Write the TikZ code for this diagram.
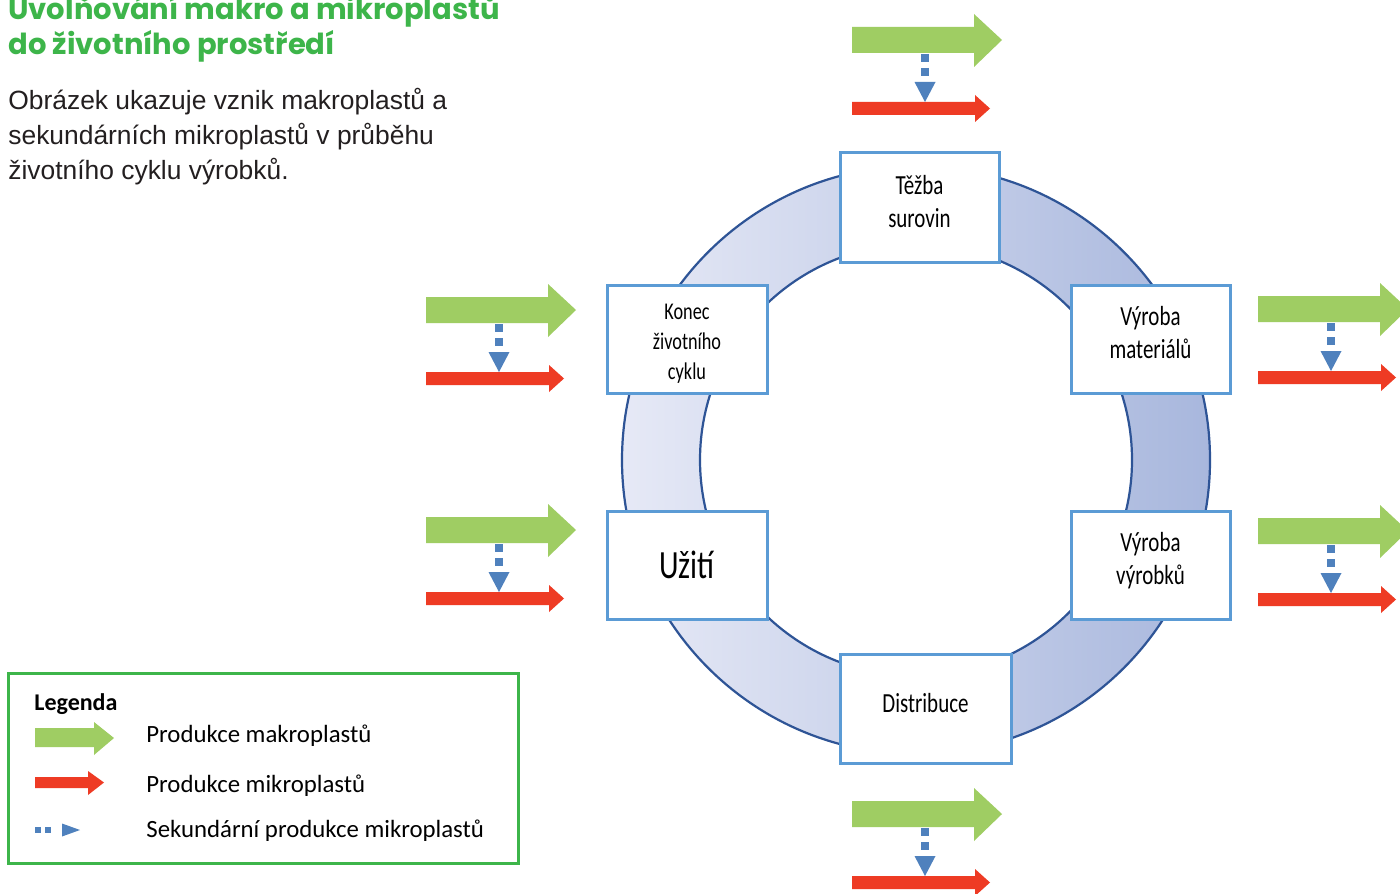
\documentclass[tikz,border=0pt]{standalone}
\usepackage{fontspec}
\setmainfont{Carlito}
\newfontfamily\boxfont[FakeStretch=0.76]{Carlito}
\newfontfamily\titlefont{Poppins}
\newfontfamily\bodyfont{Liberation Sans}
\definecolor{macroG}{HTML}{9FCD63}
\definecolor{microR}{HTML}{EE3B24}
\definecolor{secB}{HTML}{4F81BD}
\definecolor{ringL}{HTML}{E6E9F6}
\definecolor{ringR}{HTML}{A8B7DD}
\definecolor{ringE}{HTML}{2E5496}
\definecolor{boxE}{HTML}{5B9BD5}
\definecolor{titleG}{HTML}{3DB54A}
\definecolor{bodyK}{HTML}{231F20}
\definecolor{legG}{HTML}{3DB54A}
\tikzset{
  stage/.style={draw=boxE, line width=1.5pt, fill=white, inner sep=0pt},
  stagetext/.style={inner sep=0pt, align=center, font=\boxfont\fontsize{13.8pt}{16.5pt}\selectfont},
  ringline/.style={draw=ringE, line width=1.1pt},
  secline/.style={draw=secB, line width=4pt, dash pattern=on 4pt off 3pt},
  flow/.pic={
    \fill[macroG] (0,0) -- (122,0) -- (122,-13) -- (150,13) -- (122,40) -- (122,26) -- (0,26) -- cycle;
    \fill[microR] (0,75) -- (123,75) -- (123,68) -- (138,81.5) -- (123,95) -- (123,88) -- (0,88) -- cycle;
    \draw[secline] (73,27) -- (73,50);
    \fill[secB] (62.5,55) -- (83.5,55) -- (73,75) -- cycle;
  },
  txt/.style={anchor=base west, inner sep=0pt},
  titletxt/.style={txt, font=\titlefont\bfseries\fontsize{14.5pt}{17pt}\selectfont, text=titleG},
  bodytxt/.style={txt, font=\bodyfont\fontsize{13.2pt}{16pt}\selectfont, text=bodyK},
  legtxt/.style={txt, font=\fontsize{12.4pt}{14pt}\selectfont},
}
\begin{document}
\begin{tikzpicture}[x=0.5pt, y=-0.5pt]
\useasboundingbox (0,0) rectangle (1400,893);
\clip (0,0) rectangle (1400,893);
\fill[white] (0,0) rectangle (1400,893);

% title and intro
\node[titletxt] (t1) at (8,20) {Uvolňování makro a mikroplastů};
\node[titletxt] (t2) at (8,55) {do životního prostředí};
\node[bodytxt] (b1) at (8,110) {Obrázek ukazuje vznik makroplastů a};
\node[bodytxt] (b2) at (8,145) {sekundárních mikroplastů v průběhu};
\node[bodytxt] (b3) at (8,180) {životního cyklu výrobků.};

% ring
\coordinate (c) at (916,460);
\path[left color=ringL, right color=ringR, even odd rule] (c) circle[radius=147pt] (c) circle[radius=108pt];
\draw[ringline] (c) circle[radius=147pt];
\draw[ringline] (c) circle[radius=108pt];

% stages
\node[stage, minimum width=79.5pt, minimum height=54.5pt] (tezba) at (919.5,207.5) {};
\node[stage, minimum width=80pt, minimum height=54pt] (konec) at (687,339) {};
\node[stage, minimum width=79.5pt, minimum height=54pt] (vyrmat) at (1150.5,339) {};
\node[stage, minimum width=80pt, minimum height=54pt] (uziti) at (687,565) {};
\node[stage, minimum width=79.5pt, minimum height=54pt] (vyrvyr) at (1150.5,565) {};
\node[stage, minimum width=85.5pt, minimum height=54.5pt] (distr) at (925.5,708.5) {};

\node[stagetext] (tezbaT) at ([yshift=3pt]tezba.center) {Těžba\\surovin};
\node[stagetext, font=\boxfont\fontsize{12pt}{15pt}\selectfont] (konecT) at ([yshift=-2.5pt]konec.center) {Konec\\životního\\cyklu};
\node[stagetext] (vyrmatT) at ([yshift=3pt]vyrmat.center) {Výroba\\materiálů};
\node[stagetext, font=\boxfont\fontsize{20pt}{22pt}\selectfont] (uzitiT) at (uziti.center) {Užití};
\node[stagetext] (vyrvyrT) at ([yshift=2pt]vyrvyr.center) {Výroba\\výrobků};
\node[stagetext] (distrT) at ([yshift=2.5pt]distr.center) {Distribuce};

% flows
\pic at (852,27) {flow};
\pic at (426,297) {flow};
\pic at (426,517) {flow};
\pic at (1258,296) {flow};
\pic at (1258,518) {flow};
\pic at (852,801) {flow};

% legend
\node[draw=legG, line width=1.5pt, minimum width=255pt, minimum height=95pt, inner sep=0pt] (legend) at (263,768) {};
\node[txt, font=\bfseries\fontsize{12pt}{14pt}\selectfont] (legt) at (34,710) {Legenda};
\fill[macroG] (35,728) -- (94,728) -- (94,722) -- (114,738) -- (94,755) -- (94,747) -- (35,747) -- cycle;
\fill[microR] (35,777) -- (88,777) -- (88,771) -- (104,782.5) -- (88,795) -- (88,788) -- (35,788) -- cycle;
\fill[secB] (35,827) rectangle (41,833);
\fill[secB] (45,827) rectangle (51,833);
\fill[secB] (62,823.5) -- (80,830) -- (62,836.5) -- cycle;
\node[legtxt] (l1) at (146,742) {Produkce makroplastů};
\node[legtxt] (l2) at (146,792) {Produkce mikroplastů};
\node[legtxt] (l3) at (146,837) {Sekundární produkce mikroplastů};
\end{tikzpicture}
\end{document}
